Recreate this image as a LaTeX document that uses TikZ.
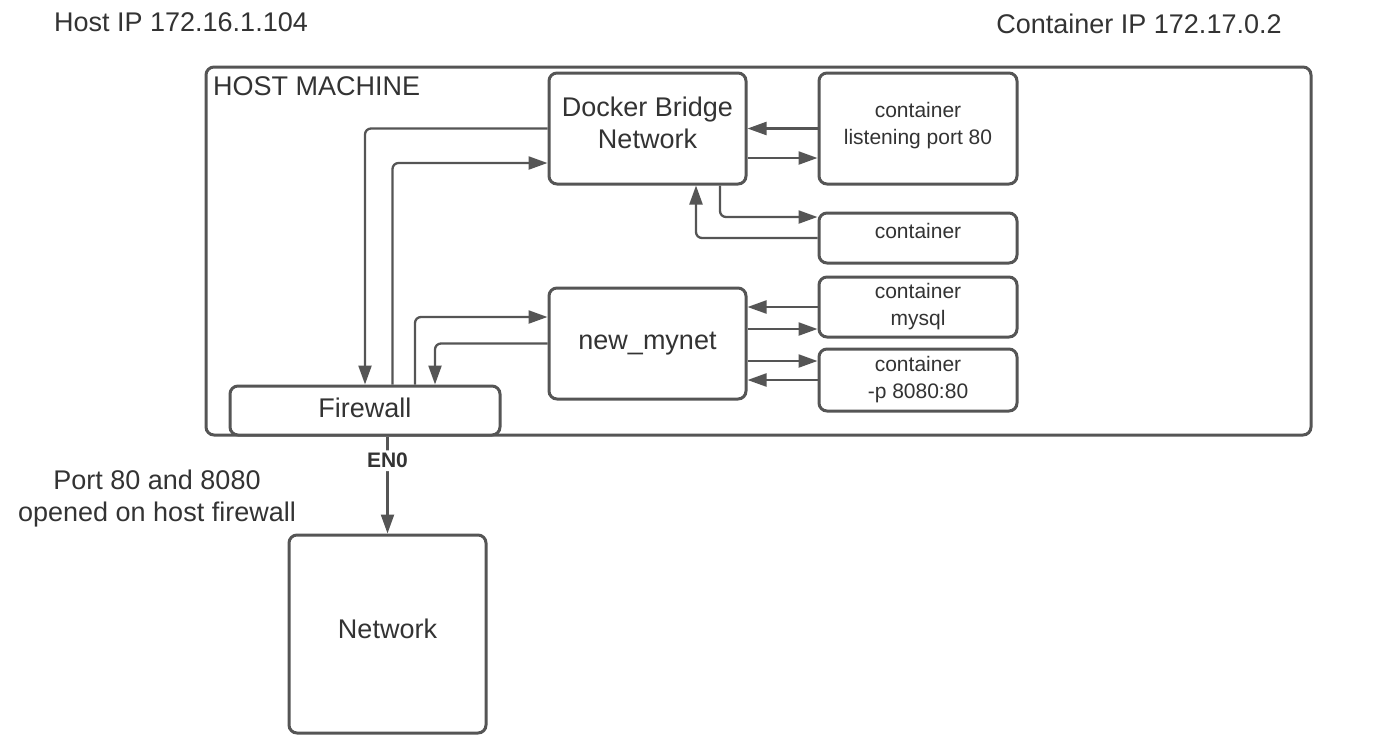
\documentclass[tikz,border=0pt]{standalone}
\usepackage{fontspec}
\setmainfont{Liberation Sans}
\usetikzlibrary{arrows.meta}
\definecolor{edge}{RGB}{85,85,85}
\definecolor{ink}{RGB}{51,51,51}

\begin{document}
\begin{tikzpicture}[x=1pt, y=-1pt,
  box/.style={draw=edge, line width=3pt, rounded corners=8pt, fill=white,
    text=ink, align=center, inner sep=0pt, font=\fontsize{27}{32}\selectfont},
  cbox/.style={box, minimum width=198pt, font=\fontsize{21}{27}\selectfont},
  arr/.style={draw=edge, line width=2.3pt, rounded corners=6pt,
    -{Triangle[length=19pt,width=13pt]}},
  txt/.style={text=ink, align=center, inner sep=0pt, font=\fontsize{27}{32}\selectfont}]

  \useasboundingbox (0,0) rectangle (1378,740);

  % host and its label
  \node[box, fill=none, minimum width=1105pt, minimum height=368pt] (host) at (758.5,251) {};
  \node[txt, anchor=west] (hostlbl) at (213,86) {HOST MACHINE};

  \node[txt] (hostip) at (181,22) {Host IP 172.16.1.104};
  \node[txt] (ctrip) at (1139,24) {Container IP 172.17.0.2};
  \node[txt] (ports) at (157,499) {Port 80 and 8080\\opened on host firewall};

  % networks
  \node[box, minimum width=197pt, minimum height=111pt, text depth=12pt] (dbn) at (647.5,128.5) {Docker Bridge\\Network};
  \node[box, minimum width=197pt, minimum height=111pt] (mynet) at (647.5,343.5) {new\_mynet};

  % containers
  \node[cbox, minimum height=111pt, text depth=10pt] (lport) at (918,128.5) {container\\listening port 80};
  \node[cbox, minimum height=50pt, text depth=14pt] (ctr) at (918,238) {container};
  \node[cbox, minimum height=60pt] (mysql) at (918,307) {container\\mysql};
  \node[cbox, minimum height=62pt] (pport) at (918,380) {container\\-p 8080:80};

  \node[box, minimum width=270pt, minimum height=49pt, text depth=6pt] (fw) at (365,410.5) {Firewall};
  \node[box, minimum width=197pt, minimum height=198pt, text depth=10pt] (net) at (387.5,634) {Network};

  % firewall <-> networks
  \draw[arr] (dbn.west) -| (fw.north);
  \draw[arr] ([xshift=27.5pt]fw.north) |- ([yshift=-34.5pt]dbn.west);
  \draw[arr] ([xshift=50pt]fw.north) |- ([yshift=26.5pt]mynet.west);
  \draw[arr] (mynet.west) -| ([xshift=70pt]fw.north);

  % bridge <-> containers
  \draw[arr] (lport.west) -- (lport.west -| dbn.east);
  \draw[arr] ([yshift=-29.5pt]dbn.east) -- ([yshift=-29.5pt]lport.west);
  \draw[arr] ([xshift=72.5pt]dbn.south) |- ([yshift=21pt]ctr.west);
  \draw[arr] (ctr.west) -| ([xshift=48.5pt]dbn.south);

  % new_mynet <-> containers
  \draw[arr] (mysql.west) -- (mysql.west -| mynet.east);
  \draw[arr] ([yshift=-22pt]mysql.west -| mynet.east) -- ([yshift=-22pt]mysql.west);
  \draw[arr] ([yshift=19pt]pport.west -| mynet.east) -- ([yshift=19pt]pport.west);
  \draw[arr] (pport.west) -- (pport.west -| mynet.east);

  \draw[arr] (fw.south -| net.north) -- node[pos=0.25, fill=white, text=ink, inner sep=3pt,
    font=\bfseries\fontsize{21}{25}\selectfont] (en0) {EN0} (net.north);
\end{tikzpicture}
\end{document}
